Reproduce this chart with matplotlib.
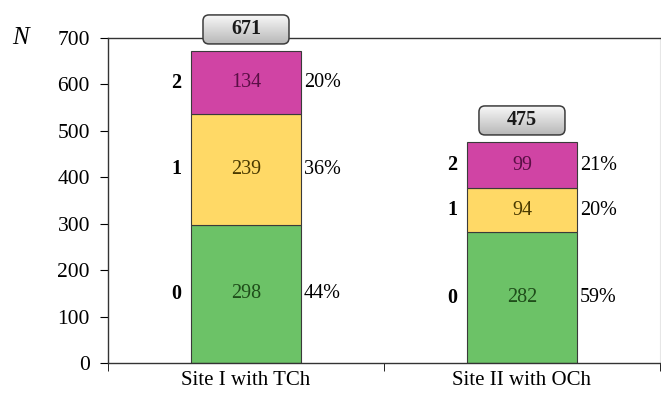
import numpy as np
import matplotlib.pyplot as plt
from matplotlib.patches import FancyBboxPatch

plt.rcParams["font.family"] = ["Liberation Serif", "DejaVu Serif"]

# Counts per site, stacked by grade level
sites = ["Site I with TCh", "Site II with OCh"]
levels = ["0", "1", "2"]
counts_0 = [298, 282]
counts_1 = [239, 94]
counts_2 = [134, 99]
shares_0 = ["44%", "59%"]
shares_1 = ["36%", "20%"]
shares_2 = ["20%", "21%"]
totals = [671, 475]

colors = ["#6cc267", "#ffd966", "#d044a4"]
text_colors = ["#1f4d1a", "#4a3a00", "#5a0f45"]

W, H = 661, 404
fig = plt.figure(figsize=(W / 100, H / 100), dpi=100)
ax = fig.add_axes([0.1634, 0.1015, 0.835, 0.8045])
ax.set_xlim(-0.5, 1.5)
ax.set_ylim(0, 700)

x = np.arange(len(sites))
width = 0.4
layers = [counts_0, counts_1, counts_2]
shares = [shares_0, shares_1, shares_2]
bottom = np.zeros(len(sites))
for i, vals in enumerate(layers):
    vals = np.array(vals)
    ax.bar(x, vals, width, bottom=bottom, color=colors[i],
           edgecolor="#3a3a3a", linewidth=0.8, zorder=2)
    for j in range(len(sites)):
        mid = bottom[j] + vals[j] / 2
        ax.text(x[j], mid, str(vals[j]), ha="center", va="center",
                fontsize=14.5, color=text_colors[i], zorder=3)
        ax.text(x[j] - width / 2 - 0.035, mid, levels[i], ha="right",
                va="center", fontsize=14.5, fontweight="bold", zorder=3)
        ax.text(x[j] + width / 2 + 0.01, mid, shares[i][j], ha="left",
                va="center", fontsize=14.5, zorder=3)
    bottom += vals

ax.set_yticks(range(0, 701, 100))
ax.set_xticks(x)
ax.set_xticklabels(sites, fontsize=15)
ax.set_xticks([-0.5, 0.5, 1.5], minor=True)
ax.tick_params(axis="x", which="major", length=0, pad=6)
ax.tick_params(axis="x", which="minor", length=6, direction="out")
ax.tick_params(axis="y", labelsize=15.5, length=6, direction="out", pad=7)

for side in ["left", "bottom", "top"]:
    ax.spines[side].set_color("#333333")
    ax.spines[side].set_linewidth(1.0)
ax.spines["right"].set_color("#e6e6e6")
ax.spines["right"].set_linewidth(0.8)

# Overlay in pixel units for the rounded total boxes
over = fig.add_axes([0, 0, 1, 1], zorder=5)
over.set_xlim(0, W)
over.set_ylim(0, H)
over.axis("off")

top_c = np.array([0.97, 0.97, 0.97])
bot_c = np.array([0.72, 0.72, 0.72])
t = np.linspace(0, 1, 64)[:, None]
grad = (top_c * (1 - t) + bot_c * t)[:, None, :]

box_w, box_h, gap = 86, 29, 22
for j, tot in enumerate(totals):
    px, py = ax.transData.transform((x[j], tot))
    cx, cy = px, py + gap
    patch = FancyBboxPatch((cx - box_w / 2, cy - box_h / 2), box_w, box_h,
                           boxstyle="round,pad=0,rounding_size=6",
                           facecolor="none", edgecolor="#3c3c3c",
                           linewidth=1.1, zorder=3)
    over.add_patch(patch)
    im = over.imshow(grad, aspect="auto", origin="upper", zorder=2,
                     extent=(cx - box_w / 2, cx + box_w / 2,
                             cy - box_h / 2, cy + box_h / 2))
    im.set_clip_path(patch)
    over.text(cx, cy, str(tot), ha="center", va="center", fontsize=14.5,
              fontweight="bold", zorder=4, color="#1a1a1a")
over.set_xlim(0, W)
over.set_ylim(0, H)

fig.text(0.018, 0.906, "N", ha="left", va="center", fontsize=18,
         fontstyle="italic")

fig.savefig("out.png", dpi=100)
